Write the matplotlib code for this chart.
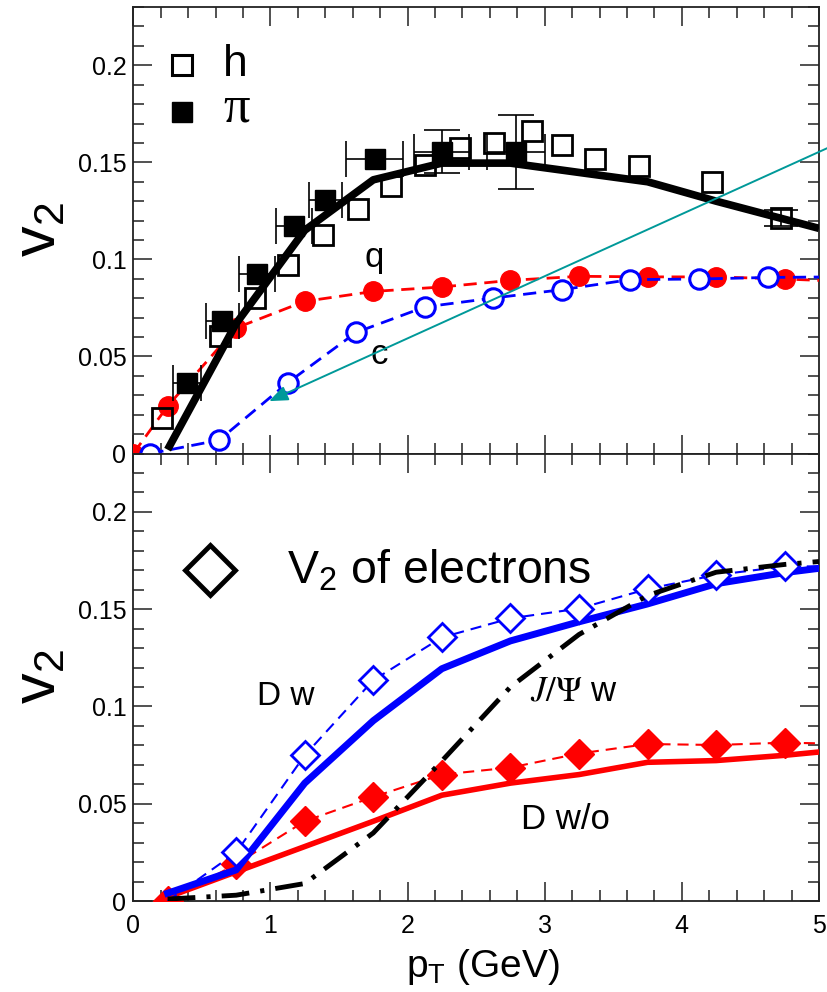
import matplotlib
matplotlib.use("Agg")
import matplotlib.pyplot as plt
from matplotlib.ticker import MultipleLocator, FuncFormatter

plt.rcParams['font.family'] = ['Liberation Sans', 'DejaVu Sans']
plt.rcParams['lines.scale_dashes'] = False

# ---------------- upper panel: hadron / quark v2 ----------------
h_pt = [0.21, 0.63, 0.89, 1.13, 1.38, 1.635, 1.88, 2.13, 2.38, 2.63, 2.91, 3.125, 3.37, 3.69, 4.22, 4.72]
h_v2 = [0.0184, 0.0604, 0.0801, 0.0973, 0.1127, 0.1259, 0.1376, 0.1487, 0.1573, 0.1600, 0.1660, 0.1590, 0.1517, 0.1479, 0.1400, 0.1213]
h_err = [0, 0, 0, 0, 0, 0, 0, 0, 0, 0, 0, 0, 0, 0, 0, 0.004]

pi_pt = [0.39, 0.65, 0.90, 1.17, 1.40, 1.76, 2.25, 2.79]
pi_v2 = [0.0364, 0.0681, 0.0926, 0.1170, 0.1307, 0.1517, 0.1555, 0.1555]
pi_xerr = [0.10, 0.12, 0.13, 0.13, 0.12, 0.21, 0.20, 0.21]
pi_yerr = [0, 0, 0, 0, 0, 0, 0.011, 0.019]

hydro_pt = [0.25, 0.75, 1.25, 1.75, 2.25, 2.75, 3.75, 4.25, 5.0]
hydro_v2 = [0.002, 0.067, 0.115, 0.141, 0.1496, 0.1496, 0.140, 0.130, 0.116]

q_pt = [0.0, 0.25, 0.75, 1.25, 1.75, 2.25, 2.75, 3.25, 3.75, 4.25, 4.75, 5.25]
q_v2 = [0.0, 0.0244, 0.0647, 0.0784, 0.0835, 0.0858, 0.0892, 0.0913, 0.0910, 0.0910, 0.0899, 0.0885]

c_pt = [0.125, 0.625, 1.125, 1.625, 2.125, 2.625, 3.125, 3.625, 4.125, 4.625, 5.125]
c_v2 = [0.0, 0.0069, 0.0364, 0.0624, 0.0755, 0.0801, 0.0844, 0.0896, 0.0899, 0.0907, 0.0910]

# ---------------- lower panel: electron v2 ----------------
e_pt = [0.25, 0.75, 1.25, 1.75, 2.25, 2.75, 3.25, 3.75, 4.25, 4.75, 5.25]
e_dw_v2 = [0.0, 0.025, 0.0749, 0.1135, 0.1355, 0.1453, 0.1503, 0.1604, 0.1676, 0.1720, 0.1720]
e_dwo_v2 = [0.0, 0.019, 0.041, 0.0535, 0.0650, 0.0686, 0.0758, 0.0807, 0.0802, 0.0814, 0.0807]

th_pt = [0.25, 0.75, 1.25, 1.75, 2.25, 2.75, 3.25, 3.75, 4.25, 4.75, 5.0]
th_dw_v2 = [0.004, 0.016, 0.0606, 0.0927, 0.1194, 0.1337, 0.1435, 0.1527, 0.1631, 0.1688, 0.1710]
th_dwo_v2 = [0.002, 0.015, 0.028, 0.041, 0.0544, 0.0606, 0.0650, 0.0713, 0.0722, 0.0749, 0.0766]
th_jpsi_v2 = [0.001, 0.003, 0.009, 0.035, 0.072, 0.110, 0.137, 0.157, 0.169, 0.173, 0.1745]

RED = '#ff0000'
BLUE = '#0000ff'
TEAL = '#009999'

fig = plt.figure(figsize=(8.27, 9.92), dpi=100)
ax_top = fig.add_axes([0.1612, 0.5428, 0.8291, 0.4501])
ax_bot = fig.add_axes([0.1612, 0.0917, 0.8291, 0.4511])


def style(ax, show_x):
    ax.set_xlim(0, 5)
    ax.set_ylim(0, 0.23)
    ax.xaxis.set_major_locator(MultipleLocator(1))
    ax.xaxis.set_minor_locator(MultipleLocator(0.2))
    ax.yaxis.set_major_locator(MultipleLocator(0.05))
    ax.yaxis.set_minor_locator(MultipleLocator(0.01))
    ax.tick_params(which='both', direction='in', top=True, right=True,
                   width=1.1, color='#222222')
    ax.tick_params(which='major', length=14)
    ax.tick_params(which='minor', length=8)
    ax.tick_params(axis='y', labelsize=18, pad=5)
    ax.tick_params(axis='x', labelsize=18, pad=9, labelbottom=show_x)
    ax.yaxis.set_major_formatter(FuncFormatter(lambda v, p: f"{v:.2f}".rstrip('0').rstrip('.') if v else "0"))
    for s in ax.spines.values():
        s.set_linewidth(1.3)
        s.set_color('#222222')


def with_error(xs, ys, errs):
    sel = [i for i, e in enumerate(errs) if e > 0]
    return [xs[i] for i in sel], [ys[i] for i in sel], [errs[i] for i in sel]


style(ax_top, False)
style(ax_bot, True)

# upper panel curves and data
ax_top.plot(q_pt, q_v2, color=RED, lw=2, dashes=(9.5, 5.5), marker='o', ms=14,
            mfc=RED, mec=RED, zorder=3)
ax_top.plot(c_pt, c_v2, color=BLUE, lw=2, dashes=(9.5, 5.5), marker='o', ms=14,
            mfc='white', mec=BLUE, mew=2.2, zorder=4)

hx, hy, he = with_error(h_pt, h_v2, h_err)
ax_top.errorbar(hx, hy, yerr=he, fmt='none', ecolor='k', elinewidth=1.2,
                capsize=12, capthick=1.2, zorder=5)
ax_top.plot(h_pt, h_v2, 's', ms=14, mfc='none', mec='k', mew=2, zorder=5)

ax_top.errorbar(pi_pt, pi_v2, xerr=pi_xerr, fmt='none', ecolor='k', elinewidth=1.2,
                capsize=13, capthick=1.2, zorder=5)
px, py, pe = with_error(pi_pt, pi_v2, pi_yerr)
ax_top.errorbar(px, py, yerr=pe, fmt='none', ecolor='k', elinewidth=1.2,
                capsize=13, capthick=1.2, zorder=5)
ax_top.plot(pi_pt, pi_v2, 's', ms=14, mfc='k', mec='k', zorder=5.5)
ax_top.plot(hydro_pt, hydro_v2, color='k', lw=5.5, solid_capstyle='butt', zorder=6)

ax_top.annotate('', xy=(0.99, 0.027), xytext=(5.06, 0.1573),
                arrowprops=dict(arrowstyle='-|>,head_length=0.75,head_width=0.3',
                                color=TEAL, lw=1.4, mutation_scale=15,
                                shrinkA=0, shrinkB=0),
                annotation_clip=False, zorder=7)

ax_top.text(1.76, 0.101, 'q', fontsize=25, ha='center', va='center')
ax_top.text(1.79, 0.051, 'c', fontsize=25, ha='center', va='center')

# key for the hadron symbols
ax_top.plot([0.0713], [0.8696], 's', ms=15, mfc='none', mec='k', mew=2.2, transform=ax_top.transAxes)
ax_top.plot([0.0713], [0.7652], 's', ms=15, mfc='k', mec='k', transform=ax_top.transAxes)
ax_top.text(0.130, 0.872, 'h', fontsize=32, ha='left', va='center', transform=ax_top.transAxes)
ax_top.text(0.132, 0.772, 'π', fontsize=38, ha='left', va='center',
            family='Liberation Serif', transform=ax_top.transAxes)

# lower panel curves and data
ax_bot.plot(e_pt, e_dwo_v2, color=RED, lw=1.5, dashes=(8, 5), marker='D', ms=15,
            mfc=RED, mec=RED, zorder=3)
ax_bot.plot(th_pt, th_dwo_v2, color=RED, lw=4, zorder=4)
ax_bot.plot(th_pt, th_dw_v2, color=BLUE, lw=5, zorder=4)
ax_bot.plot(e_pt, e_dw_v2, color=BLUE, lw=1.5, dashes=(8, 5), marker='D', ms=14,
            mfc='white', mec=BLUE, mew=2, markevery=slice(1, None), zorder=5)
ax_bot.plot(th_pt, th_jpsi_v2, color='k', lw=3.5, dashes=(20, 8, 3, 8), zorder=6)

ax_bot.plot([0.1122], [0.739], 'D', ms=25, mfc='white', mec='k', mew=3.5, transform=ax_bot.transAxes)
ax_bot.text(1.12, 0.170, r'V$_\mathregular{2}$ of electrons', fontsize=33.5, ha='left', va='center')
ax_bot.text(0.90, 0.105, 'D w', fontsize=24, ha='left', va='center')
ax_bot.text(2.89, 0.108, r'$\mathbf{\mathit{J}}/\Psi$ w', fontsize=25, ha='left', va='center',
            math_fontfamily='stix')
ax_bot.text(2.83, 0.042, 'D w/o', fontsize=25, ha='left', va='center')

# axis titles
fig.text(40 / 827, 1 - 230 / 992, r'v$_\mathregular{2}$', fontsize=44, rotation=90,
         ha='center', va='center')
fig.text(40 / 827, 1 - 677 / 992, r'v$_\mathregular{2}$', fontsize=44, rotation=90,
         ha='center', va='center')
fig.text(483 / 827, 1 - 977 / 992, r'p$_\mathregular{T}$ (GeV)', fontsize=28,
         ha='center', va='baseline')

fig.savefig('out.png', dpi=100)
